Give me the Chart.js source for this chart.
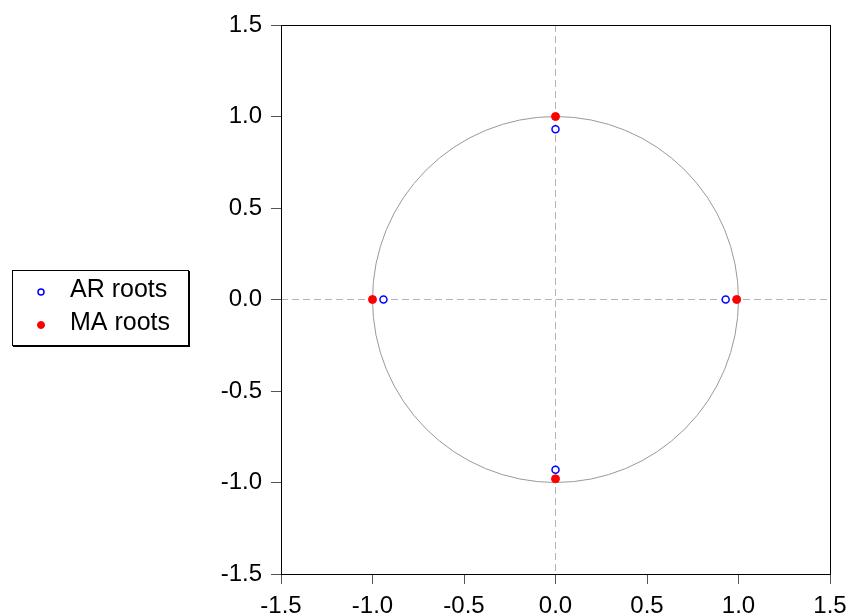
<!DOCTYPE html>
<html>
<head>
<meta charset="utf-8">
<style>
  html, body { margin: 0; padding: 0; background: #fff; }
  #wrap { width: 849px; height: 615px; }
</style>
<script src="https://cdn.jsdelivr.net/npm/chart.js@4/dist/chart.umd.min.js"></script>
</head>
<body>
<div id="wrap"><canvas id="rootChart" width="849" height="615"></canvas></div>
<script>
const arReal = [0, 0, -0.94, 0.93];
const arImag = [0.93, -0.93, 0, 0];
const maReal = [0, 0, -1.0, 0.99];
const maImag = [1.0, -0.98, 0, 0];
const axisTicks = [-1.5, -1.0, -0.5, 0.0, 0.5, 1.0, 1.5];

const FONT = "'Liberation Sans', Arial, sans-serif";

function toPoints(re, im) {
  return re.map((r, i) => ({ x: r, y: im[i] }));
}

// unit circle, dashed zero lines, frame box and the boxed legend on the left
const rootPlot = {
  id: 'rootPlot',
  beforeDatasetsDraw(chart) {
    const { ctx, chartArea: a, scales: { x, y } } = chart;
    const x0 = x.getPixelForValue(0), y0 = y.getPixelForValue(0);
    ctx.save();
    ctx.strokeStyle = '#b4b4b4';
    ctx.lineWidth = 1;
    ctx.setLineDash([7, 4]);
    ctx.beginPath();
    ctx.moveTo(x0, a.top); ctx.lineTo(x0, a.bottom);
    ctx.moveTo(a.left, y0); ctx.lineTo(a.right, y0);
    ctx.stroke();
    ctx.setLineDash([]);
    ctx.strokeStyle = '#999';
    const rx = x.getPixelForValue(1) - x0;
    const ry = y0 - y.getPixelForValue(1);
    ctx.beginPath();
    ctx.ellipse(x0, y0, rx, ry, 0, 0, Math.PI * 2);
    ctx.stroke();
    ctx.restore();
  },
  afterDraw(chart) {
    const { ctx, chartArea: a } = chart;
    ctx.save();
    ctx.strokeStyle = '#000';
    ctx.lineWidth = 1;
    ctx.strokeRect(a.left + 0.5, a.top + 0.5, a.right - a.left, a.bottom - a.top);

    // legend
    ctx.strokeRect(12.5, 270.5, 176, 75);
    ctx.lineWidth = 2;
    ctx.beginPath();
    ctx.moveTo(189, 271); ctx.lineTo(189, 346); ctx.lineTo(13, 346);
    ctx.stroke();

    const rows = chart.data.datasets;
    ctx.font = '25px ' + FONT;
    ctx.textBaseline = 'middle';
    ctx.fillStyle = '#000';
    rows.forEach((ds, i) => {
      const ym = 290 + i * 33;
      ctx.beginPath();
      ctx.arc(41, ym + 2, ds.legendRadius, 0, Math.PI * 2);
      ctx.fillStyle = ds.backgroundColor;
      ctx.fill();
      ctx.lineWidth = ds.borderWidth;
      ctx.strokeStyle = ds.borderColor;
      ctx.stroke();
      ctx.fillStyle = '#000';
      ctx.fillText(ds.label, 70, ym);
    });
    ctx.restore();
  }
};

const tickOpts = {
  color: '#000',
  font: { family: FONT, size: 24 },
  callback: v => (Math.abs(v) < 1e-9 ? 0 : v).toFixed(1)
};

new Chart(document.getElementById('rootChart').getContext('2d'), {
  type: 'scatter',
  data: {
    datasets: [
      {
        label: 'AR roots',
        data: toPoints(arReal, arImag),
        pointRadius: 3.5,
        legendRadius: 3,
        borderWidth: 1.5,
        borderColor: '#0000ff',
        backgroundColor: '#ffffff'
      },
      {
        label: 'MA roots',
        data: toPoints(maReal, maImag),
        pointRadius: 4,
        legendRadius: 3.5,
        borderWidth: 1,
        borderColor: '#ff0000',
        backgroundColor: '#ff0000'
      }
    ]
  },
  options: {
    responsive: false,
    animation: false,
    devicePixelRatio: 1,
    layout: { padding: { left: 0, top: 25, right: 19, bottom: 0 } },
    plugins: { legend: { display: false }, tooltip: { enabled: false } },
    scales: {
      x: {
        type: 'linear',
        min: -1.5, max: 1.5,
        afterBuildTicks: s => { s.ticks = axisTicks.map(v => ({ value: v })); },
        ticks: { ...tickOpts, padding: 8, maxRotation: 0 },
        grid: { drawOnChartArea: false, drawTicks: true, tickLength: 10, tickColor: '#555' },
        border: { display: true, color: '#000' },
        afterFit: s => { s.height = 41; s.paddingLeft = 0; s.paddingRight = 0; }
      },
      y: {
        type: 'linear',
        min: -1.5, max: 1.5,
        afterBuildTicks: s => { s.ticks = axisTicks.map(v => ({ value: v })); },
        ticks: { ...tickOpts, padding: 9 },
        grid: { drawOnChartArea: false, drawTicks: true, tickLength: 10, tickColor: '#555' },
        border: { display: true, color: '#000' },
        afterFit: s => { s.width = 281; s.paddingTop = 0; s.paddingBottom = 0; }
      }
    }
  },
  plugins: [rootPlot]
});
</script>
</body>
</html>
